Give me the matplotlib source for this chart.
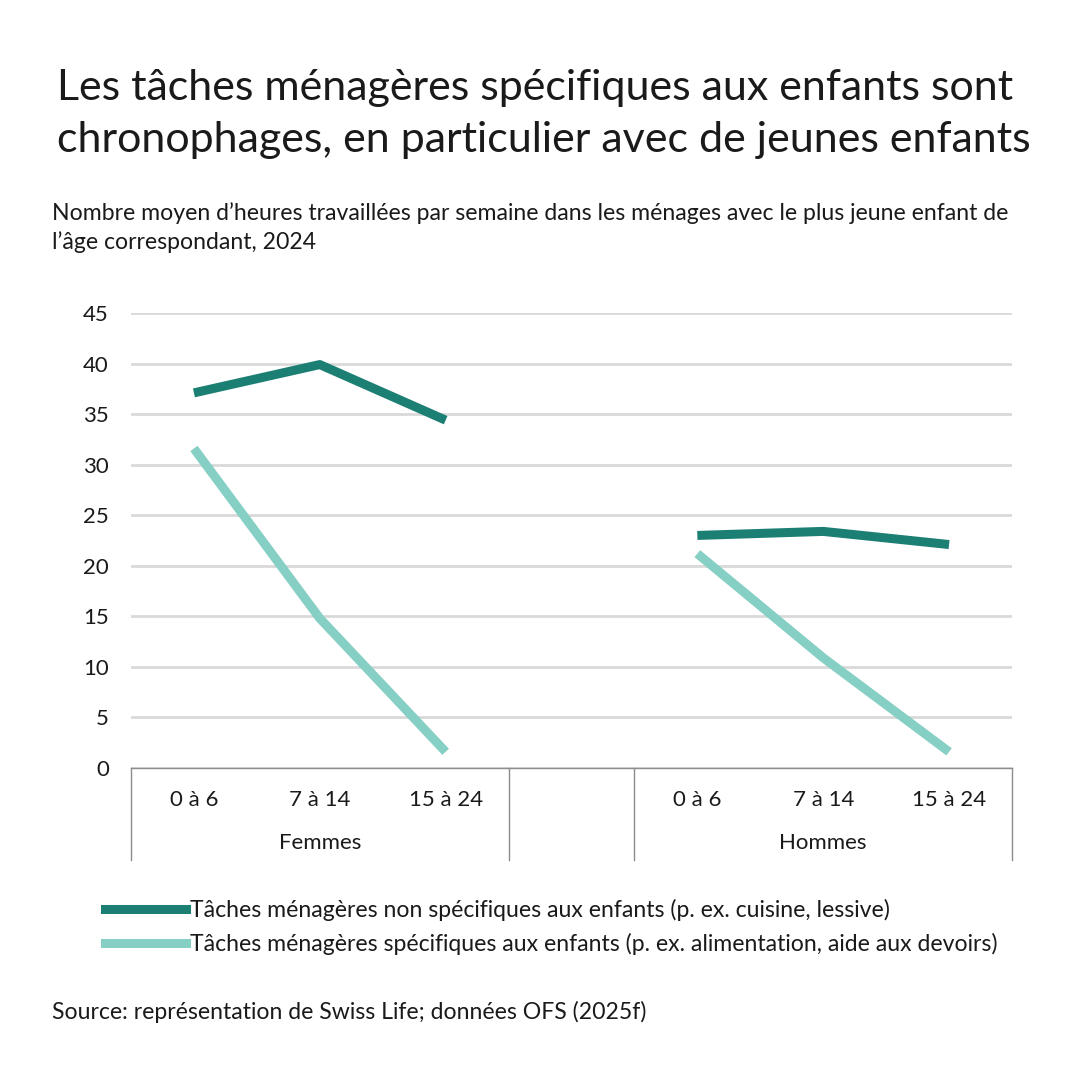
import matplotlib
matplotlib.use("Agg")
import matplotlib.pyplot as plt
from matplotlib.lines import Line2D
import matplotlib.transforms as mtransforms

plt.rcParams['font.family'] = ['Lato', 'DejaVu Sans']

# ---- data ----
groups = ["Femmes", "Hommes"]
age_labels = ["0 à 6", "7 à 14", "15 à 24"]
femmes_non_spec = [37.1, 39.9, 34.4]
femmes_spec = [31.6, 14.8, 1.6]
hommes_non_spec = [23.0, 23.4, 22.1]
hommes_spec = [21.2, 10.9, 1.6]
series_names = ["Tâches ménagères non spécifiques aux enfants (p. ex. cuisine, lessive)",
                "Tâches ménagères spécifiques aux enfants (p. ex. alimentation, aide aux devoirs)"]
yticks = [0, 5, 10, 15, 20, 25, 30, 35, 40, 45]

dark = "#1b7f74"
light = "#86cfc4"
grid_c = "#d9d9d9"
axis_c = "#8c8c8c"
text_c = "#1a1a1a"
fs = 16
fs_txt = 16.6

fig = plt.figure(figsize=(10.8, 10.8), dpi=100)
W = H = 1080
ax = fig.add_axes([131 / W, 1 - 768 / H, (1012 - 131) / W, (768 - 313) / H])

xf = [0, 1, 2]
xh = [4, 5, 6]
lw = 6.5
ax.plot(xf, femmes_non_spec, color=dark, lw=lw, solid_capstyle='butt', zorder=3)
ax.plot(xh, hommes_non_spec, color=dark, lw=lw, solid_capstyle='butt', zorder=3)
ax.plot(xf, femmes_spec, color=light, lw=lw, solid_capstyle='butt', zorder=3)
ax.plot(xh, hommes_spec, color=light, lw=lw, solid_capstyle='butt', zorder=3)

ax.set_xlim(-0.5, 6.5)
ax.set_ylim(0, 45)
ax.set_yticks(yticks)
ax.set_yticklabels([str(v) for v in yticks], fontsize=fs, color=text_c)
ax.tick_params(axis='y', length=0, pad=16)
ax.yaxis.grid(True, color=grid_c, lw=2)
ax.set_axisbelow(True)
for s in ['top', 'right', 'left']:
    ax.spines[s].set_visible(False)
ax.spines['bottom'].set_color(axis_c)
ax.spines['bottom'].set_linewidth(1)

ax.set_xticks(xf + xh)
ax.set_xticklabels(age_labels * 2, fontsize=fs, color=text_c)
ax.tick_params(axis='x', length=0, pad=16)

trans = mtransforms.blended_transform_factory(ax.transData, ax.transAxes)
depth = -(860 - 768) / (768 - 313)
for xv in [-0.5, 2.5, 3.5, 6.5]:
    ax.add_line(Line2D([xv, xv], [0, depth], transform=trans, color=axis_c, lw=1, clip_on=False))
grp_y = -(843 - 768) / (768 - 313)
for g, xs in zip(groups, [xf, xh]):
    ax.text(sum(xs) / 3, grp_y, g, transform=trans, ha='center', va='center', fontsize=fs, color=text_c)

# legend
handles = [Line2D([], [], color=dark, lw=6.5), Line2D([], [], color=light, lw=6.5)]
fig.legend(handles, series_names, loc='upper left', bbox_to_anchor=(105 / W, 1 - 899 / H),
           frameon=False, fontsize=fs_txt, handlelength=3.5, handletextpad=0.2,
           labelspacing=0.5, labelcolor=text_c, borderpad=0, borderaxespad=0)

fig.text(57 / W, 1 - 88 / H, "Les tâches ménagères spécifiques aux enfants sont", fontsize=31,
         color=text_c, va='center', ha='left')
fig.text(57 / W, 1 - 140 / H, "chronophages, en particulier avec de jeunes enfants", fontsize=31,
         color=text_c, va='center', ha='left')
fig.text(52 / W, 1 - 213 / H, "Nombre moyen d’heures travaillées par semaine dans les ménages avec le plus jeune enfant de",
         fontsize=fs_txt, color=text_c, va='center', ha='left')
fig.text(52 / W, 1 - 242 / H, "l’âge correspondant, 2024", fontsize=fs_txt, color=text_c, va='center', ha='left')
fig.text(52 / W, 1 - 1012 / H, "Source: représentation de Swiss Life; données OFS (2025f)", fontsize=fs_txt,
         color=text_c, va='center', ha='left')

fig.savefig("out.png", dpi=100, facecolor='white')
